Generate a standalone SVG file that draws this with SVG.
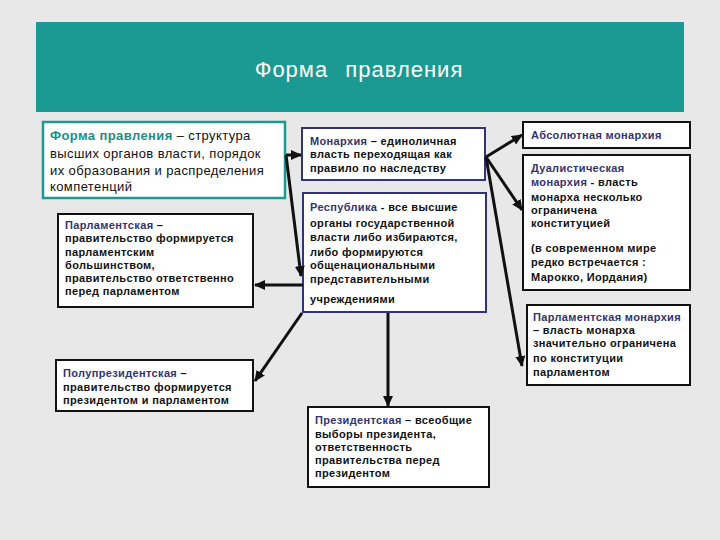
<svg xmlns="http://www.w3.org/2000/svg" width="720" height="540" viewBox="0 0 720 540">
<defs>
<style>
.t{font-family:"Liberation Sans",Arial,sans-serif;font-size:11px;font-weight:bold;fill:#111;letter-spacing:0.35px}
.d{font-family:"Liberation Sans",Arial,sans-serif;font-size:13px;fill:#111;letter-spacing:0.4px}
.h{fill:#33336e}
.ht{fill:#1a8f89;font-weight:bold}
.bx{fill:#fff;stroke:#111;stroke-width:2}
.bn{fill:#fff;stroke:#33337a;stroke-width:2}
.c{stroke:#111;stroke-width:3;fill:none}
</style>
<marker id="a" markerUnits="userSpaceOnUse" markerWidth="11" markerHeight="10" refX="10" refY="5" orient="auto">
<path d="M0,0 L11,5 L0,10 z" fill="#111"/>
</marker>
</defs>
<rect x="0" y="0" width="720" height="540" fill="#e8e8e8"/>
<g id="header">
<rect x="36" y="22" width="648" height="90" fill="#1b9a94"/>
<text x="359" y="77" text-anchor="middle" font-family="Liberation Sans,Arial,sans-serif" font-size="22" fill="#fff" letter-spacing="1" word-spacing="10">Форма правления</text>
</g>
<g id="definition">
<rect x="43" y="122" width="242" height="76" fill="#fff" stroke="#1b9a94" stroke-width="2.5"/>
<text class="d"><tspan x="50" y="140"><tspan class="ht">Форма правления</tspan> – структура</tspan><tspan x="50" y="158">высших органов власти, порядок</tspan><tspan x="50" y="175">их образования и распределения</tspan><tspan x="50" y="191">компетенций</tspan></text>
</g>
<g id="parl">
<rect class="bx" x="58" y="214" width="195" height="93"/>
<text class="t"><tspan x="65" y="229"><tspan class="h">Парламентская</tspan> –</tspan><tspan x="65" y="242">правительство формируется</tspan><tspan x="65" y="256">парламентским</tspan><tspan x="65" y="269">большинством,</tspan><tspan x="65" y="282">правительство ответственно</tspan><tspan x="65" y="295">перед парламентом</tspan></text>
</g>
<g id="semipres">
<rect class="bx" x="56" y="360" width="197" height="51"/>
<text class="t"><tspan x="63" y="377"><tspan class="h">Полупрезидентская</tspan> –</tspan><tspan x="63" y="391">правительство формируется</tspan><tspan x="63" y="404">президентом и парламентом</tspan></text>
</g>
<g id="monarchy">
<rect class="bn" x="302" y="128" width="183" height="52"/>
<text class="t"><tspan x="310" y="145"><tspan class="h">Монархия</tspan> – единоличная</tspan><tspan x="310" y="158">власть переходящая как</tspan><tspan x="310" y="172">правило по наследству</tspan></text>
</g>
<g id="republic">
<rect class="bn" x="303" y="193" width="183" height="119"/>
<text class="t"><tspan x="310" y="211"><tspan class="h">Республика</tspan> - все высшие</tspan><tspan x="310" y="227">органы государственной</tspan><tspan x="310" y="241">власти либо избираются,</tspan><tspan x="310" y="256">либо формируются</tspan><tspan x="310" y="269">общенациональными</tspan><tspan x="310" y="283">представительными</tspan><tspan x="310" y="303">учреждениями</tspan></text>
</g>
<g id="pres">
<rect class="bx" x="308" y="407" width="181" height="80"/>
<text class="t"><tspan x="315" y="424"><tspan class="h">Президентская</tspan> – всеобщие</tspan><tspan x="315" y="438">выборы президента,</tspan><tspan x="315" y="451">ответственность</tspan><tspan x="315" y="464">правительства перед</tspan><tspan x="315" y="477">президентом</tspan></text>
</g>
<g id="absolute">
<rect class="bx" x="523" y="122" width="167" height="26"/>
<text class="t"><tspan x="531" y="139" class="h">Абсолютная монархия</tspan></text>
</g>
<g id="dual">
<rect class="bx" x="523" y="155" width="167" height="135"/>
<text class="t"><tspan x="531" y="172" class="h">Дуалистическая</tspan><tspan x="531" y="186"><tspan class="h">монархия</tspan> - власть</tspan><tspan x="531" y="201">монарха несколько</tspan><tspan x="531" y="214">ограничена</tspan><tspan x="531" y="227">конституцией</tspan><tspan x="531" y="252">(в современном мире</tspan><tspan x="531" y="266">редко встречается :</tspan><tspan x="531" y="281">Марокко, Иордания)</tspan></text>
</g>
<g id="parlmon">
<rect class="bx" x="527" y="305" width="163" height="80"/>
<text class="t"><tspan x="533" y="321" class="h">Парламентская монархия</tspan><tspan x="533" y="334">– власть монарха</tspan><tspan x="533" y="347">значительно ограничена</tspan><tspan x="533" y="362">по конституции</tspan><tspan x="533" y="376">парламентом</tspan></text>
</g>
<g id="connectors">
<line class="c" x1="286" y1="155" x2="301" y2="155" marker-end="url(#a)"/>
<line class="c" x1="286" y1="155" x2="301" y2="276" marker-end="url(#a)"/>
<line class="c" x1="303" y1="285" x2="255" y2="285" marker-end="url(#a)"/>
<line class="c" x1="302" y1="313" x2="255" y2="381" marker-end="url(#a)"/>
<line class="c" x1="388" y1="313" x2="388" y2="406" marker-end="url(#a)"/>
<line class="c" x1="486" y1="157" x2="522" y2="135" marker-end="url(#a)"/>
<line class="c" x1="486" y1="157" x2="522" y2="210" marker-end="url(#a)" stroke-width="4"/>
<line class="c" x1="486" y1="157" x2="522" y2="366" marker-end="url(#a)"/>
</g>
</svg>
